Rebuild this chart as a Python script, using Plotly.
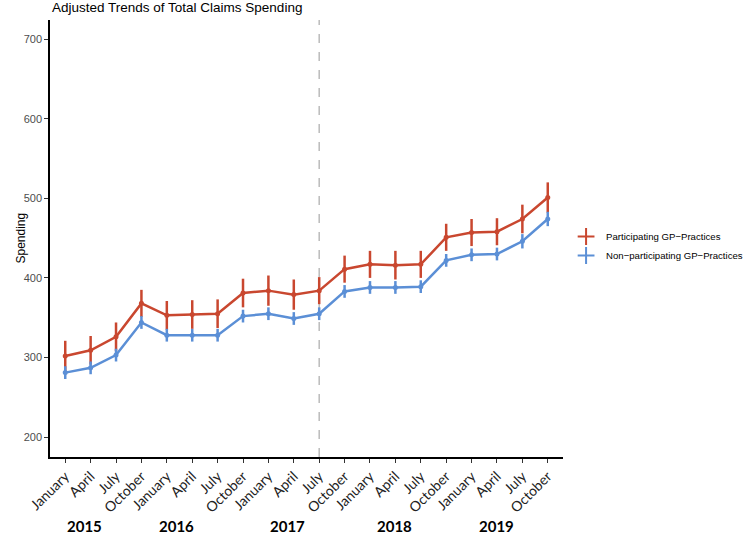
import plotly.graph_objects as go

months = ["January", "April", "July", "October"] * 5
years = ["2015", "2016", "2017", "2018", "2019"]
year_pos = [0.75, 4.4, 8.75, 12.95, 17.0]

participating = [302, 309, 326, 368, 353, 354, 355, 381, 384, 379, 384,
                 411, 417, 416, 417, 451, 457, 458, 474, 501]
participating_err = [19, 18, 18, 17, 18, 18, 18, 18, 19, 19, 17,
                     17, 17, 18, 17, 17, 17, 17, 18, 19]
non_participating = [281, 287, 303, 344, 328, 328, 328, 352, 355, 349, 355,
                     383, 388, 388, 389, 422, 429, 430, 446, 474]
non_participating_err = [8, 8, 8, 8, 8, 8, 8, 8, 8, 8, 8,
                         8, 8, 8, 8, 8, 8, 8, 9, 9]

red = "#C9472F"
blue = "#5B8FD6"
idx = list(range(len(months)))

W, H = 752, 538
L, R, T, B = 50, 189, 20, 81
PH = H - T - B

fig = go.Figure()
for name, vals, errs, col in [
    ("Participating GP\u2212Practices", participating, participating_err, red),
    ("Non\u2212participating GP\u2212Practices", non_participating, non_participating_err, blue),
]:
    fig.add_trace(go.Scatter(
        x=idx, y=vals, mode="lines+markers", name=name, showlegend=False,
        line=dict(color=col, width=2.5),
        marker=dict(color=col, size=5),
        error_y=dict(type="data", array=errs, color=col, thickness=2.5, width=0),
    ))
for name, col in [
    ("Participating GP\u2212Practices", red),
    ("Non\u2212participating GP\u2212Practices", blue),
]:
    fig.add_trace(go.Scatter(
        x=[None], y=[None], mode="markers", name=name,
        marker=dict(symbol="cross-thin", size=16, line=dict(color=col, width=2.5)),
    ))

fig.add_shape(type="line", x0=10, x1=10, xref="x", y0=0, y1=1, yref="paper",
              line=dict(color="#BBBBBB", width=1.5, dash="dash"), layer="below")

for y, xp in zip(years, year_pos):
    fig.add_annotation(text="<b>%s</b>" % y, x=xp, xref="x", y=-69 / PH, yref="paper",
                       showarrow=False, font=dict(family="Lato", size=15, color="black"),
                       xanchor="center", yanchor="middle")

fig.add_annotation(text="Spending", textangle=-90, x=-(L - 20) / (W - L - R), xref="paper",
                   y=0.5, yref="paper", showarrow=False, xanchor="center", yanchor="middle",
                   font=dict(family="Liberation Sans", size=12, color="black"))

fig.update_layout(
    width=W, height=H,
    margin=dict(l=L, r=R, t=T, b=B, autoexpand=False),
    paper_bgcolor="white", plot_bgcolor="white",
    title=dict(text="Adjusted Trends of Total Claims Spending", x=52 / W, xanchor="left",
               xref="container", yref="container", y=1 - 7 / H, yanchor="middle",
               font=dict(family="Liberation Sans", size=13.5, color="black")),
    font=dict(family="Liberation Sans"),
    legend=dict(x=1.006, y=1 - (246 - T) / PH, xanchor="left", yanchor="middle",
                font=dict(family="Liberation Sans", size=9.6, color="black"),
                tracegroupgap=0, itemsizing="constant"),
    xaxis=dict(range=[-0.6, 19.6], tickmode="array", tickvals=idx, ticktext=months,
               tickangle=-45, showgrid=False, zeroline=False, automargin=False,
               showline=True, linecolor="black", linewidth=1.5,
               ticks="outside", ticklen=4, tickcolor="#333333",
               tickfont=dict(family="Lato", size=14, color="#222222")),
    yaxis=dict(range=[175, 724], tickvals=[200, 300, 400, 500, 600, 700],
               showgrid=False, zeroline=False, automargin=False,
               showline=True, linecolor="black", linewidth=1.5,
               ticks="outside", ticklen=4, tickcolor="#333333",
               tickfont=dict(family="Liberation Sans", size=11, color="#4D4D4D")),
)

fig.write_html("out.html", config={"displayModeBar": False},
               post_script="document.body.style.margin='0';")
